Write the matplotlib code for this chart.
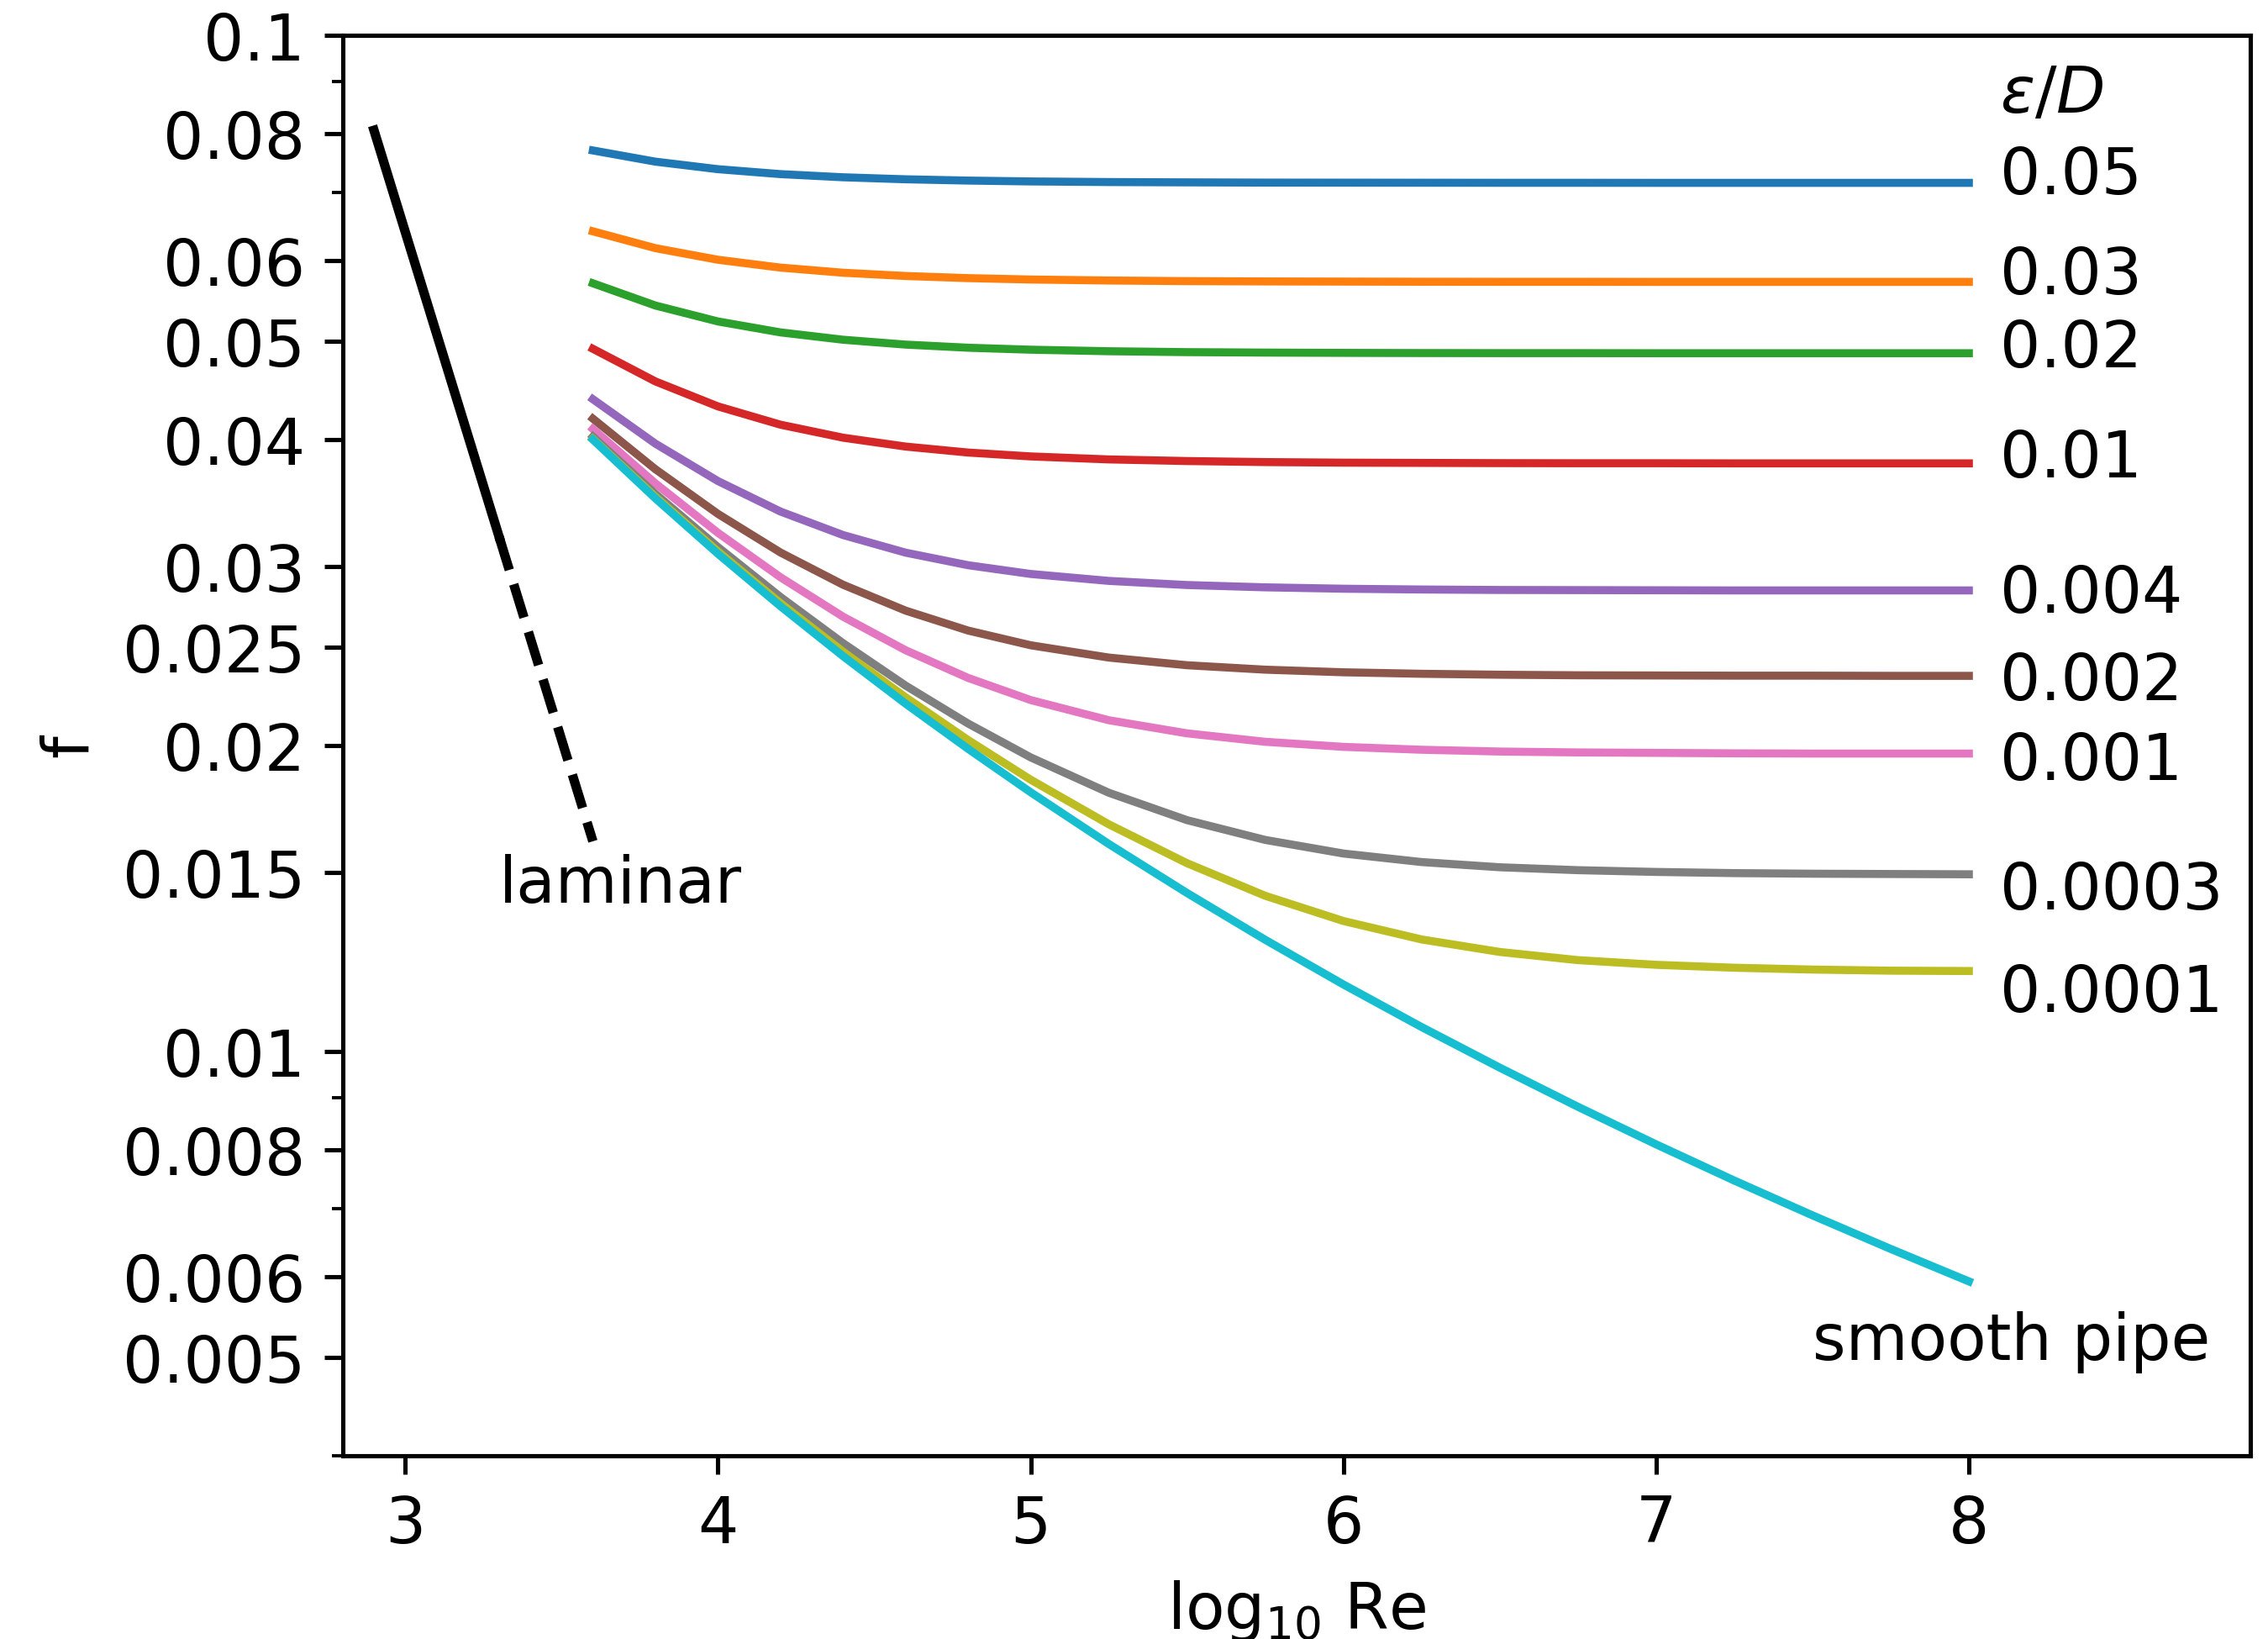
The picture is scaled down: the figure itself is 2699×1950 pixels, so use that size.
import matplotlib
matplotlib.use("Agg")
import matplotlib.pyplot as plt
from matplotlib.ticker import FixedLocator, FixedFormatter, NullFormatter

# Reynolds number grid (log10) shared by every turbulent curve
log_re = [3.6, 3.8, 4.0, 4.2, 4.4, 4.6, 4.8, 5.0, 5.25, 5.5, 5.75, 6.0,
          6.25, 6.5, 6.75, 7.0, 7.25, 7.5, 7.75, 8.0]

# Relative roughness of each curve and its friction factor along log_re
roughness = ["0.05", "0.03", "0.02", "0.01", "0.004", "0.002", "0.001", "0.0003", "0.0001"]
f_0_05 = [0.07700, 0.07507, 0.07380, 0.07298, 0.07246, 0.07213, 0.07192, 0.07178, 0.07168, 0.07163,
          0.07159, 0.07158, 0.07157, 0.07156, 0.07156, 0.07155, 0.07155, 0.07155, 0.07155, 0.07155]
f_0_03 = [0.06411, 0.06171, 0.06011, 0.05905, 0.05837, 0.05794, 0.05766, 0.05748, 0.05735, 0.05727,
          0.05723, 0.05721, 0.05719, 0.05718, 0.05718, 0.05717, 0.05717, 0.05717, 0.05717, 0.05717]
f_0_02 = [0.05699, 0.05419, 0.05227, 0.05099, 0.05015, 0.04960, 0.04925, 0.04903, 0.04886, 0.04876,
          0.04871, 0.04868, 0.04866, 0.04865, 0.04865, 0.04864, 0.04864, 0.04864, 0.04864, 0.04864]
f_0_01 = [0.04913, 0.04563, 0.04312, 0.04137, 0.04017, 0.03937, 0.03884, 0.03850, 0.03824, 0.03810,
          0.03801, 0.03796, 0.03794, 0.03792, 0.03791, 0.03791, 0.03790, 0.03790, 0.03790, 0.03790]
f_0_004 = [0.04383, 0.03963, 0.03641, 0.03398, 0.03222, 0.03096, 0.03009, 0.02950, 0.02904, 0.02877,
           0.02862, 0.02853, 0.02848, 0.02845, 0.02844, 0.02843, 0.02842, 0.02842, 0.02842, 0.02842]
f_0_002 = [0.04194, 0.03740, 0.03380, 0.03097, 0.02879, 0.02715, 0.02595, 0.02510, 0.02441, 0.02399,
           0.02375, 0.02361, 0.02353, 0.02348, 0.02345, 0.02344, 0.02343, 0.02343, 0.02342, 0.02342]
f_0_001 = [0.04097, 0.03622, 0.03238, 0.02928, 0.02678, 0.02482, 0.02331, 0.02217, 0.02118, 0.02056,
           0.02017, 0.01994, 0.01981, 0.01973, 0.01969, 0.01967, 0.01965, 0.01964, 0.01964, 0.01964]
f_0_0003 = [0.04026, 0.03537, 0.03135, 0.02800, 0.02522, 0.02291, 0.02102, 0.01947, 0.01797, 0.01689,
            0.01615, 0.01566, 0.01536, 0.01518, 0.01508, 0.01502, 0.01498, 0.01496, 0.01495, 0.01494]
f_0_0001 = [0.04006, 0.03513, 0.03104, 0.02761, 0.02474, 0.02231, 0.02025, 0.01851, 0.01673, 0.01532,
            0.01423, 0.01344, 0.01289, 0.01253, 0.01230, 0.01217, 0.01209, 0.01204, 0.01201, 0.01200]
f_smooth = [0.04000, 0.03501, 0.03088, 0.02742, 0.02449, 0.02199, 0.01985, 0.01799, 0.01600, 0.01432,
            0.01288, 0.01164, 0.01057, 0.009641, 0.008823, 0.008103, 0.007465, 0.006899, 0.006394, 0.005941]
rough_curves = [f_0_05, f_0_03, f_0_02, f_0_01, f_0_004, f_0_002, f_0_001, f_0_0003, f_0_0001]

# Heights of the roughness labels at the right-hand end
label_f = [0.0727, 0.0580, 0.0491, 0.0383, 0.0282, 0.0231, 0.0193, 0.0144, 0.0114]
header_f = 0.0874

# Laminar branch f = 64/Re: solid part, then dashed into the transition region
laminar_x = [2.9, 3.3]
laminar_f = [0.0806, 0.0321]
transition_x = [3.3, 3.6]
transition_f = [0.0321, 0.0161]

yticks = [0.005, 0.006, 0.008, 0.01, 0.015, 0.02, 0.025, 0.03, 0.04, 0.05, 0.06, 0.08, 0.1]
ytick_labels = ["0.005", "0.006", "0.008", "0.01", "0.015", "0.02", "0.025", "0.03",
                "0.04", "0.05", "0.06", "0.08", "0.1"]
yminor = [0.004, 0.007, 0.009, 0.07, 0.09]
xticks = [3, 4, 5, 6, 7, 8]

FS = 11.9
plt.rcParams["font.family"] = ["DejaVu Sans"]
plt.rcParams["font.size"] = FS

DPI = 460
fig = plt.figure(figsize=(2699 / DPI, 1951 / DPI), dpi=DPI)
ax = fig.add_axes([0.1511, 0.1116, 0.8411, 0.8665])
ax.set_yscale("log")

colors = plt.rcParams["axes.prop_cycle"].by_key()["color"]
for i, (lab, fv) in enumerate(zip(roughness, rough_curves)):
    ax.plot(log_re, fv, color=colors[i], lw=1.5)
    ax.text(8.1, label_f[i], lab, ha="left", va="center", fontsize=FS)
ax.plot(log_re, f_smooth, color=colors[9], lw=1.5)
ax.text(8.1, header_f, r"$\varepsilon/D$", ha="left", va="center", fontsize=FS)
ax.text(7.5, 0.00518, "smooth pipe", ha="left", va="center", fontsize=FS)

ax.plot(laminar_x, laminar_f, color="k", lw=1.75)
ax.plot(transition_x, transition_f, color="k", lw=1.75, ls="--")
ax.text(3.3, 0.0146, "laminar", ha="left", va="center", fontsize=FS)

ax.set_xlim(2.8, 8.9)
ax.set_ylim(0.004, 0.1)
ax.set_xticks(xticks)
ax.yaxis.set_major_locator(FixedLocator(yticks))
ax.yaxis.set_major_formatter(FixedFormatter(ytick_labels))
ax.yaxis.set_minor_locator(FixedLocator(yminor))
ax.yaxis.set_minor_formatter(NullFormatter())

ax.set_xlabel(r"log$_{10}$ Re")
ax.set_ylabel("f")

fig.savefig("out.png", dpi=DPI)
